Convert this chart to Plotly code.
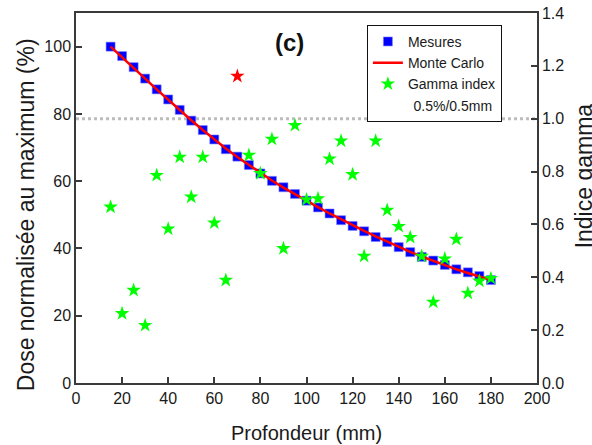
import plotly.graph_objects as go

depth = [15, 20, 25, 30, 35, 40, 45, 50, 55, 60, 65, 70, 75, 80, 85, 90, 95, 100,
         105, 110, 115, 120, 125, 130, 135, 140, 145, 150, 155, 160, 165, 170, 175, 180]

mesures = [100.0, 97.2, 93.9, 90.5, 87.3, 84.3, 81.2, 78.0, 75.2, 72.4, 69.5, 67.3,
           64.8, 62.3, 60.1, 58.2, 56.2, 54.2, 52.2, 50.4, 48.4, 46.7, 45.1, 43.4,
           41.9, 40.4, 38.9, 37.5, 36.4, 35.1, 33.8, 32.9, 31.8, 30.6]

monte_carlo = [100.0, 96.9, 93.7, 90.5, 87.3, 84.2, 81.1, 78.1, 75.2, 72.4, 69.7, 67.2,
               64.8, 62.4, 60.2, 58.1, 56.1, 54.2, 52.3, 50.4, 48.6, 46.9, 45.2, 43.6,
               42.0, 40.5, 39.0, 37.6, 36.3, 35.0, 33.8, 32.7, 31.6, 30.6]

gamma = [0.666, 0.263, 0.351, 0.218, 0.786, 0.583, 0.855, 0.704, 0.855, 0.606, 0.389, 1.161,
         0.862, 0.793, 0.923, 0.509, 0.975, 0.694, 0.698, 0.848, 0.916, 0.789, 0.480, 0.916,
         0.654, 0.593, 0.551, 0.480, 0.306, 0.470, 0.544, 0.340, 0.386, 0.396]

x_ticks = list(range(0, 201, 20))
y_ticks = list(range(0, 101, 20))
g_ticks = [0.0, 0.2, 0.4, 0.6, 0.8, 1.0, 1.2, 1.4]
gamma_threshold = 1.0

gamma_colors = ["#ff0000" if g > gamma_threshold else "#00ff00" for g in gamma]

FONT = "Liberation Sans, Arial, sans-serif"
AX = "#3a3a3a"

fig = go.Figure()
fig.add_trace(go.Scatter(
    x=depth, y=mesures, mode="markers", name="Mesures",
    marker=dict(symbol="square", size=9, color="#0000ff",
                line=dict(width=0.6, color="#8080ff")),
))
fig.add_trace(go.Scatter(
    x=depth, y=monte_carlo, mode="lines", name="Monte Carlo",
    line=dict(color="#ff0000", width=2.5),
))
fig.add_trace(go.Scatter(
    x=depth, y=gamma, mode="markers", name="Gamma index", yaxis="y2",
    marker=dict(symbol="star", size=11, color=gamma_colors, line=dict(width=0)),
))
fig.add_trace(go.Scatter(
    x=[None], y=[None], mode="markers", name="\u2009\u20090.5%/0.5mm", yaxis="y2",
    marker=dict(opacity=0, color="#ffffff"),
))

fig.add_shape(type="line", xref="paper", x0=0, x1=1, yref="y2",
              y0=gamma_threshold, y1=gamma_threshold, layer="below",
              line=dict(color="#bdbdbd", width=3, dash="dot"))

axis_common = dict(
    showline=True, linecolor=AX, linewidth=1.5,
    ticks="inside", ticklen=6, tickwidth=1.5, tickcolor=AX,
    showgrid=False, zeroline=False, automargin=False,
    ticklabeloverflow="allow",
    tickfont=dict(family=FONT, size=16, color="#1a1a1a"),
)

fig.update_layout(
    template="none",
    width=592, height=445,
    margin=dict(l=76, r=55, t=13, b=62, autoexpand=False),
    paper_bgcolor="white", plot_bgcolor="white",
    font=dict(family=FONT, color="#1a1a1a"),
    xaxis=dict(range=[0, 200], tickvals=x_ticks, mirror=True, **axis_common),
    yaxis=dict(range=[0, 110], tickvals=y_ticks, **axis_common),
    yaxis2=dict(range=[0, 1.4001], tickvals=g_ticks, tickformat=".1f",
                overlaying="y", side="right", **axis_common),
    legend=dict(x=0.631, y=0.968, xanchor="left", yanchor="top",
                bgcolor="white", bordercolor="#111111", borderwidth=1,
                font=dict(family=FONT, size=14, color="#1a1a1a"),
                tracegroupgap=0, itemwidth=30),
    showlegend=True,
    annotations=[
        dict(text="<b>(c)</b>", x=0.464, y=0.92, xref="paper", yref="paper",
             showarrow=False, font=dict(family=FONT, size=24, color="#111111"),
             xanchor="center", yanchor="middle"),
        dict(text="Dose normalisée au maximum (%)", x=-0.108, y=0.454,
             xref="paper", yref="paper", textangle=-90, showarrow=False,
             font=dict(family=FONT, size=23, color="#1a1a1a"),
             xanchor="center", yanchor="middle"),
        dict(text="Indice gamma", x=1.101, y=0.56,
             xref="paper", yref="paper", textangle=-90, showarrow=False,
             font=dict(family=FONT, size=23, color="#1a1a1a"),
             xanchor="center", yanchor="middle"),
        dict(text="Profondeur (mm)", x=0.5, y=-0.135,
             xref="paper", yref="paper", showarrow=False,
             font=dict(family=FONT, size=20, color="#1a1a1a"),
             xanchor="center", yanchor="middle"),
    ],
)

# remove the default 8px page margin so the figure fills the window exactly
fig.write_html("out.html", config={"displayModeBar": False},
               post_script="document.body.style.margin='0px';document.body.style.overflow='hidden';")
